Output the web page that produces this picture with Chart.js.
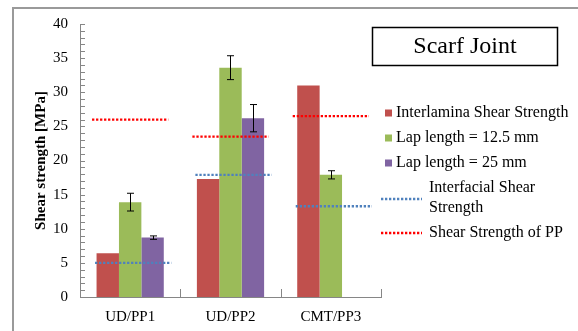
<!DOCTYPE html>
<html>
<head>
<meta charset="utf-8">
<script src="https://cdn.jsdelivr.net/npm/chart.js@4/dist/chart.umd.min.js"></script>
<style>
  html, body { margin: 0; padding: 0; background: #fff; }
  canvas { display: block; }
</style>
</head>
<body>
<canvas id="c" width="578" height="331"></canvas>
<script>
// ---- data ----
const categories = ['UD/PP1', 'UD/PP2', 'CMT/PP3'];
const interlaminaShear = [6.4, 17.3, 31.0];
const lap125 = [13.9, 33.6, 17.9];
const lap125Err = [1.3, 1.75, 0.6];
const lap25 = [8.7, 26.2, null];
const lap25Err = [0.25, 2.0, null];
const interfacialShear = [5.0, 17.9, 13.3];
const ppShear = [26.0, 23.5, 26.5];
const yMin = 0;
const yMax = 40;
const yStep = 5;
const chartTitle = 'Scarf Joint';
const yAxisTitle = 'Shear strength [MPa]';

const SERIF = "'Liberation Serif', 'Times New Roman', serif";
Chart.defaults.font.family = SERIF;
Chart.defaults.color = '#000';

// bars sit at the middle of each category slot on the hidden linear axis
function centred(values) {
  return values.map((v, i) => ({ x: i + 0.5, y: v }));
}

// horizontal reference level drawn across part of each category slot
function levelSegments(values, from, to) {
  const pts = [];
  values.forEach((v, i) => {
    pts.push({ x: i + from, y: v }, { x: i + to, y: v }, { x: i + to, y: null });
  });
  return pts;
}

const AXIS_GRAY = '#868686';

const background = {
  id: 'background',
  beforeDraw(chart) {
    const ctx = chart.ctx;
    ctx.save();
    ctx.fillStyle = '#fff';
    ctx.fillRect(0, 0, chart.width, chart.height);
    ctx.strokeStyle = '#9a9a9a';
    ctx.lineWidth = 2;
    ctx.beginPath();
    ctx.moveTo(13, chart.height);
    ctx.lineTo(13, 8);
    ctx.lineTo(chart.width, 8);
    ctx.stroke();
    ctx.restore();
  }
};

// short tick marks pointing into the plot area
const insideTicks = {
  id: 'insideTicks',
  afterDraw(chart) {
    const ctx = chart.ctx;
    const y = chart.scales.y;
    const xv = chart.scales.xv;
    const left = chart.chartArea.left;
    const bottom = chart.chartArea.bottom;
    ctx.save();
    ctx.strokeStyle = AXIS_GRAY;
    ctx.lineWidth = 1;
    ctx.beginPath();
    for (let v = yMin; v <= yMax; v += 1) {
      const py = Math.round(y.getPixelForValue(v)) + 0.5;
      ctx.moveTo(left, py);
      ctx.lineTo(left + 5, py);
    }
    for (let i = 1; i <= categories.length; i++) {
      const px = Math.round(xv.getPixelForValue(i)) + 0.5;
      ctx.moveTo(px, bottom);
      ctx.lineTo(px, bottom - 8);
    }
    ctx.stroke();
    ctx.restore();
  }
};

const errorBars = {
  id: 'errorBars',
  afterDatasetsDraw(chart) {
    const ctx = chart.ctx;
    const y = chart.scales.y;
    chart.data.datasets.forEach((ds, di) => {
      if (!ds.errors) return;
      const meta = chart.getDatasetMeta(di);
      meta.data.forEach((bar, i) => {
        const v = ds.data[i].y;
        const e = ds.errors[i];
        if (v == null || e == null) return;
        const x = Math.round(bar.x) + 0.5;
        const yt = y.getPixelForValue(v + e);
        const yb = y.getPixelForValue(v - e);
        ctx.save();
        ctx.strokeStyle = '#000';
        ctx.lineWidth = 1;
        ctx.beginPath();
        ctx.moveTo(x, yt); ctx.lineTo(x, yb);
        ctx.moveTo(x - 3.5, yt); ctx.lineTo(x + 3.5, yt);
        ctx.moveTo(x - 3.5, yb); ctx.lineTo(x + 3.5, yb);
        ctx.stroke();
        ctx.restore();
      });
    });
  }
};

// legend on the right, with the boxed chart title above it
const sideLegend = {
  id: 'sideLegend',
  afterDraw(chart) {
    const ctx = chart.ctx;
    ctx.save();

    ctx.strokeStyle = '#000';
    ctx.lineWidth = 1.5;
    ctx.strokeRect(372.5, 27.5, 185, 38);
    ctx.font = `24px ${SERIF}`;
    ctx.fillStyle = '#000';
    ctx.textAlign = 'center';
    ctx.textBaseline = 'middle';
    ctx.fillText(chartTitle, 465, 47);

    ctx.font = `16px ${SERIF}`;
    ctx.textAlign = 'left';
    let cursor = 113;
    chart.data.datasets.forEach(ds => {
      const isLine = ds.type === 'line';
      const textX = isLine ? 429 : 396;
      const maxW = chart.width - textX - 2;
      const words = ds.label.split(' ');
      const lines = [];
      let cur = '';
      words.forEach(w => {
        const test = cur ? cur + ' ' + w : w;
        if (cur && ctx.measureText(test).width > maxW) { lines.push(cur); cur = w; }
        else cur = test;
      });
      lines.push(cur);
      const markerY = cursor + (lines.length - 1) * 10 + (lines.length > 1 ? 1 : 0);
      if (isLine) {
        ctx.save();
        ctx.strokeStyle = ds.borderColor;
        ctx.lineWidth = ds.borderWidth;
        ctx.setLineDash(ds.borderDash);
        ctx.beginPath();
        ctx.moveTo(381, markerY);
        ctx.lineTo(422, markerY);
        ctx.stroke();
        ctx.restore();
      } else {
        ctx.fillStyle = ds.backgroundColor;
        ctx.fillRect(385, markerY - 3.5, 7, 7);
      }
      ctx.fillStyle = '#000';
      lines.forEach((t, k) => ctx.fillText(t, textX, cursor + k * 20));
      cursor += (lines.length - 1) * 20 + 25;
    });
    ctx.restore();
  }
};

new Chart(document.getElementById('c'), {
  type: 'bar',
  data: {
    labels: categories,
    datasets: [
      { label: 'Interlamina Shear Strength', data: centred(interlaminaShear), xAxisID: 'xv', backgroundColor: '#C0504D', order: 2 },
      { label: 'Lap length = 12.5 mm', data: centred(lap125), errors: lap125Err, xAxisID: 'xv', backgroundColor: '#9BBB59', order: 2 },
      { label: 'Lap length = 25 mm', data: centred(lap25), errors: lap25Err, xAxisID: 'xv', backgroundColor: '#8064A2', order: 2 },
      {
        type: 'line', label: 'Interfacial Shear Strength',
        data: levelSegments(interfacialShear, 0.15, 0.91), xAxisID: 'xv',
        borderColor: '#4F81BD', borderWidth: 2.3, borderDash: [2.3, 1.7],
        pointRadius: 0, spanGaps: false, fill: false, order: 1
      },
      {
        type: 'line', label: 'Shear Strength of PP',
        data: levelSegments(ppShear, 0.12, 0.88), xAxisID: 'xv',
        borderColor: '#FF0000', borderWidth: 2.3, borderDash: [2.3, 1.7],
        pointRadius: 0, spanGaps: false, fill: false, order: 1
      }
    ]
  },
  options: {
    responsive: false,
    animation: false,
    devicePixelRatio: 1,
    layout: { padding: { left: 0, right: 197, top: 24, bottom: 0 } },
    datasets: { bar: { categoryPercentage: 0.67, barPercentage: 1.0 } },
    plugins: {
      legend: { display: false },
      tooltip: { enabled: false },
      title: { display: false }
    },
    scales: {
      x: {
        type: 'category',
        offset: true,
        grid: { display: false, drawTicks: false },
        border: { color: AXIS_GRAY, width: 1 },
        ticks: { font: { size: 15 }, padding: 11, color: '#000' },
        afterFit(s) { s.height = 34; }
      },
      xv: {
        type: 'linear', display: false, offset: false,
        min: 0, max: categories.length,
        ticks: { stepSize: 1 }
      },
      y: {
        min: yMin, max: yMax,
        ticks: { stepSize: yStep, font: { size: 15 }, padding: 12, color: '#000' },
        grid: { display: false, drawTicks: false },
        border: { color: AXIS_GRAY, width: 1 },
        title: {
          display: true, text: yAxisTitle, color: '#000',
          font: { size: 15, weight: 'bold' },
          padding: { top: 32, bottom: 0 }
        },
        afterFit(s) { s.width = 80; }
      }
    }
  },
  plugins: [background, insideTicks, errorBars, sideLegend]
});
</script>
</body>
</html>
